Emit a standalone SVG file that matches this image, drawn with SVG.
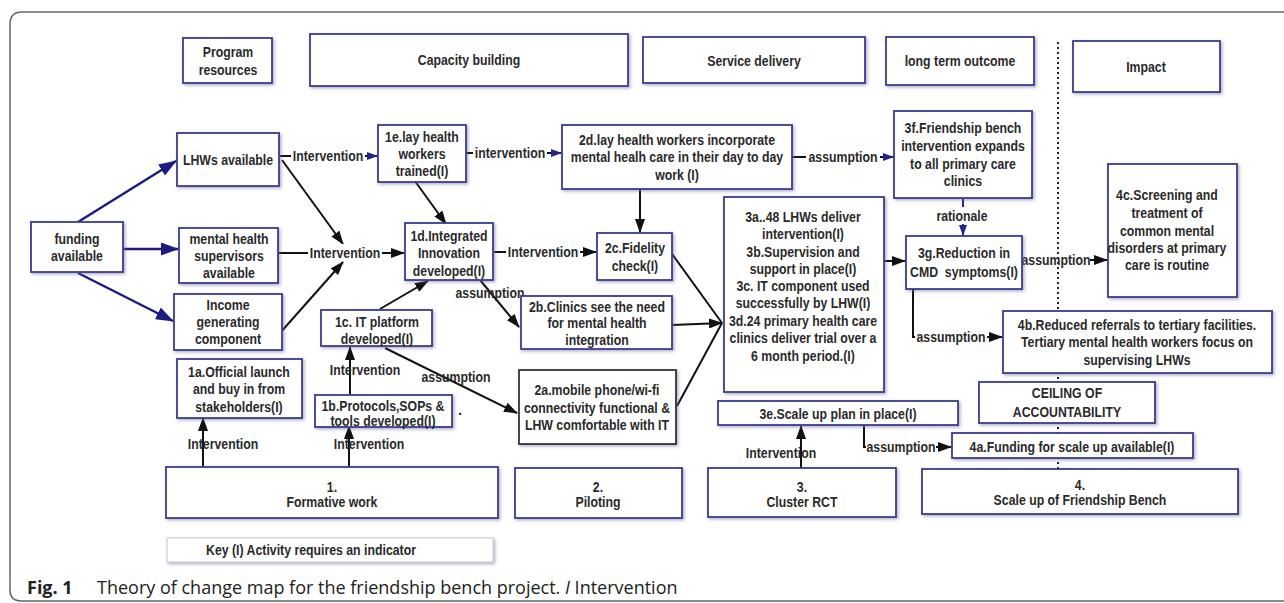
<svg xmlns="http://www.w3.org/2000/svg" width="1284" height="603" viewBox="0 0 1284 603">
<defs>
<filter id="sh" x="-10%" y="-10%" width="120%" height="130%">
<feDropShadow dx="1.5" dy="1.5" stdDeviation="1.5" flood-color="#6a6aa0" flood-opacity="0.55"/>
</filter>
<marker id="ab" markerUnits="userSpaceOnUse" viewBox="0 0 14 10" markerWidth="14" markerHeight="10" refX="13" refY="5" orient="auto"><path d="M0,0 L14,5 L0,10 z" fill="#111"/></marker>
<marker id="bb" markerUnits="userSpaceOnUse" viewBox="0 0 18 13" markerWidth="18" markerHeight="13" refX="17" refY="6.5" orient="auto"><path d="M0,0 L18,6.5 L0,13 z" fill="#1c1c80"/></marker>
<marker id="sb" markerUnits="userSpaceOnUse" viewBox="0 0 11 8" markerWidth="11" markerHeight="8" refX="10" refY="4" orient="auto"><path d="M0,0 L11,4 L0,8 z" fill="#24248a"/></marker>
</defs>
<style>
.bx{fill:#fff;stroke:#3c3c8c;stroke-width:1.8;filter:url(#sh)}
.bk{fill:#fff;stroke:#333;stroke-width:1.8;filter:url(#sh)}
.t{font-family:'Liberation Sans',Arial,sans-serif;font-weight:bold;font-size:15px;fill:#2a2a2a;text-anchor:middle}
.c{fill:none;stroke:#111;stroke-width:2}
.cb{fill:none;stroke:#1c1c80;stroke-width:2.5}
.lb{fill:#fff}
</style>
<rect width="1284" height="603" fill="#fff"/>
<path d="M1284 12 H22 Q10 12 10 24 V590 Q10 601 21 601 H1284" fill="none" stroke="#666" stroke-width="1.5"/>
<line x1="1058" y1="42" x2="1058" y2="470" stroke="#222" stroke-width="2" stroke-dasharray="2 3"/>

<g id="connectors">
<path class="cb" d="M78 222 L176 161" marker-end="url(#bb)"/>
<path class="cb" d="M123 249 L178 249" marker-end="url(#bb)"/>
<path class="cb" d="M78 273 L173 321" marker-end="url(#bb)"/>
<path class="c" d="M280 156 L377 156" marker-end="url(#sb)"/>
<rect class="lb" x="291" y="147" width="74" height="18"/>
<g transform="matrix(0.82 0 0 1 59.04 0)"><text class="t" x="328" y="161">Intervention</text></g>
<path class="c" d="M466 153 L561 153" marker-end="url(#sb)"/>
<rect class="lb" x="473" y="144" width="74" height="18"/>
<g transform="matrix(0.82 0 0 1 91.8 0)"><text class="t" x="510" y="158">intervention</text></g>
<path class="c" d="M792 157 L893 157" marker-end="url(#sb)"/>
<rect class="lb" x="806" y="148" width="74" height="18"/>
<g transform="matrix(0.82 0 0 1 151.74 0)"><text class="t" x="843" y="162">assumption</text></g>
<path class="c" d="M282 160 L343 244" marker-end="url(#ab)"/>
<path class="c" d="M278 253 L404 253" marker-end="url(#ab)"/>
<rect class="lb" x="308" y="244" width="74" height="18"/>
<g transform="matrix(0.82 0 0 1 62.1 0)"><text class="t" x="345" y="258">Intervention</text></g>
<path class="c" d="M280 333 L343 262" marker-end="url(#ab)"/>
<path class="c" d="M412 177 L446 224" marker-end="url(#ab)"/>
<path class="c" d="M494 252 L596 252" marker-end="url(#ab)"/>
<rect class="lb" x="506" y="243" width="74" height="18"/>
<g transform="matrix(0.82 0 0 1 97.74 0)"><text class="t" x="543" y="257">Intervention</text></g>
<path class="c" d="M640 189 L640 232" marker-end="url(#ab)"/>
<path class="c" d="M480 280 L519 327" marker-end="url(#ab)"/>
<g transform="matrix(0.82 0 0 1 88.2 0)"><text class="t" x="490" y="298">assumption</text></g>
<path class="c" d="M380 309 L428 281" marker-end="url(#ab)"/>
<path class="c" d="M385 348 L517 413" marker-end="url(#ab)"/>
<g transform="matrix(0.82 0 0 1 82.08 0)"><text class="t" x="456" y="382">assumption</text></g>
<path class="c" d="M350 395 L350 347" marker-end="url(#ab)"/>
<g transform="matrix(0.82 0 0 1 65.7 0)"><text class="t" x="365" y="375">Intervention</text></g>
<path class="c" d="M349 467 L349 426" marker-end="url(#ab)"/>
<g transform="matrix(0.82 0 0 1 66.42 0)"><text class="t" x="369" y="449">Intervention</text></g>
<path class="c" d="M203 467 L203 418" marker-end="url(#ab)"/>
<g transform="matrix(0.82 0 0 1 40.14 0)"><text class="t" x="223" y="449">Intervention</text></g>
<path class="c" d="M667 247 L722 323"/>
<path class="c" d="M672 325 L722 323" marker-end="url(#ab)"/>
<path class="c" d="M677 406 L722 323"/>
<path class="c" d="M875 261 L905 261" marker-end="url(#ab)"/>
<path d="M963 198 L963 235" fill="none" stroke="#24248a" stroke-width="2" marker-end="url(#sb)"/>
<rect class="lb" x="935" y="207" width="56" height="17"/>
<g transform="matrix(0.82 0 0 1 173.16 0)"><text class="t" x="962" y="221">rationale</text></g>
<path class="c" d="M1090 260 L1107 260" marker-end="url(#ab)"/>
<g transform="matrix(0.82 0 0 1 190.08 0)"><text class="t" x="1056" y="265">assumption</text></g>
<path class="c" d="M913 289 L913 337 L1002 337" marker-end="url(#ab)"/>
<rect class="lb" x="915" y="328" width="72" height="18"/>
<g transform="matrix(0.82 0 0 1 171.18 0)"><text class="t" x="951" y="342">assumption</text></g>
<path class="c" d="M864 425 L864 447 L951 447" marker-end="url(#ab)"/>
<rect class="lb" x="866" y="438" width="70" height="18"/>
<g transform="matrix(0.82 0 0 1 162.18 0)"><text class="t" x="901" y="452">assumption</text></g>
<path class="c" d="M801 468 L801 426" marker-end="url(#ab)"/>
<g transform="matrix(0.82 0 0 1 140.58 0)"><text class="t" x="781" y="458">Intervention</text></g>
</g>

<g id="program-resources"><rect class="bx" x="183" y="38" width="89" height="45"/><g transform="matrix(0.82 0 0 1 41.04 0)"><text class="t" x="228" y="57">Program</text><text class="t" x="228" y="75">resources</text></g></g>
<g id="capacity-building"><rect class="bx" x="310" y="34" width="318" height="52"/><g transform="matrix(0.82 0 0 1 84.42 0)"><text class="t" x="469" y="65">Capacity building</text></g></g>
<g id="service-delivery"><rect class="bx" x="643" y="37" width="222" height="46"/><g transform="matrix(0.82 0 0 1 135.72 0)"><text class="t" x="754" y="66">Service delivery</text></g></g>
<g id="long-term-outcome"><rect class="bx" x="886" y="37" width="148" height="48"/><g transform="matrix(0.82 0 0 1 172.8 0)"><text class="t" x="960" y="66">long term outcome</text></g></g>
<g id="impact"><rect class="bx" x="1073" y="41" width="147" height="51"/><g transform="matrix(0.82 0 0 1 206.28 0)"><text class="t" x="1146" y="72">Impact</text></g></g>

<g id="lhws-available"><rect class="bx" x="177" y="133" width="102" height="53"/><g transform="matrix(0.82 0 0 1 41.04 0)"><text class="t" x="228" y="165">LHWs available</text></g></g>
<g id="n1e"><rect class="bx" x="378" y="125" width="88" height="57"/><g transform="matrix(0.82 0 0 1 75.96 0)"><text class="t" x="422" y="142">1e.lay health</text><text class="t" x="422" y="159">workers</text><text class="t" x="422" y="176">trained(I)</text></g></g>
<g id="n2d"><rect class="bx" x="562" y="125" width="230" height="64"/><g transform="matrix(0.82 0 0 1 121.86 0)"><text class="t" x="677" y="145">2d.lay health workers incorporate</text><text class="t" x="677" y="162">mental healh care in their day to day</text><text class="t" x="677" y="180">work (I)</text></g></g>
<g id="n3f"><rect class="bx" x="894" y="111" width="138" height="87"/><g transform="matrix(0.82 0 0 1 173.34 0)"><text class="t" x="963" y="133">3f.Friendship bench</text><text class="t" x="963" y="151">intervention expands</text><text class="t" x="963" y="169">to all primary care</text><text class="t" x="963" y="186">clinics</text></g></g>
<g id="funding"><rect class="bx" x="31" y="222" width="92" height="50"/><g transform="matrix(0.82 0 0 1 13.86 0)"><text class="t" x="77" y="244">funding</text><text class="t" x="77" y="261">available</text></g></g>
<g id="mh-supervisors"><rect class="bx" x="179" y="228" width="99" height="55"/><g transform="matrix(0.82 0 0 1 41.22 0)"><text class="t" x="229" y="244">mental health</text><text class="t" x="229" y="261">supervisors</text><text class="t" x="229" y="278">available</text></g></g>
<g id="income"><rect class="bx" x="174" y="294" width="108" height="56"/><g transform="matrix(0.82 0 0 1 41.04 0)"><text class="t" x="228" y="310">Income</text><text class="t" x="228" y="327">generating</text><text class="t" x="228" y="344">component</text></g></g>
<g id="n1a"><rect class="bx" x="177" y="359" width="125" height="59"/><g transform="matrix(0.82 0 0 1 43.02 0)"><text class="t" x="239" y="377">1a.Official launch</text><text class="t" x="239" y="394">and buy in from</text><text class="t" x="239" y="412">stakeholders(I)</text></g></g>
<g id="n1d"><rect class="bx" x="405" y="223" width="88" height="57"/><g transform="matrix(0.82 0 0 1 80.82 0)"><text class="t" x="449" y="241">1d.Integrated</text><text class="t" x="449" y="258">Innovation</text><text class="t" x="449" y="276">developed(I)</text></g></g>
<g id="n2c"><rect class="bx" x="597" y="233" width="75" height="47"/><g transform="matrix(0.82 0 0 1 114.3 0)"><text class="t" x="635" y="253">2c.Fidelity</text><text class="t" x="635" y="271">check(I)</text></g></g>
<g id="n2b"><rect class="bx" x="521" y="296" width="151" height="53"/><g transform="matrix(0.82 0 0 1 107.46 0)"><text class="t" x="597" y="312">2b.Clinics see the need</text><text class="t" x="597" y="328">for mental health</text><text class="t" x="597" y="345">integration</text></g></g>
<g id="n1c"><rect class="bx" x="321" y="310" width="111" height="36"/><g transform="matrix(0.82 0 0 1 67.86 0)"><text class="t" x="377" y="327">1c. IT platform</text><text class="t" x="377" y="344">developed(I)</text></g></g>
<g id="n1b"><rect class="bx" x="315" y="395" width="137" height="32"/><g transform="matrix(0.82 0 0 1 68.94 0)"><text class="t" x="383" y="411">1b.Protocols,SOPs &amp;</text><text class="t" x="383" y="426">tools developed(I)</text></g><text class="t" x="460" y="415">.</text></g>
<g id="n2a"><rect class="bk" x="519" y="370" width="157" height="74"/><g transform="matrix(0.82 0 0 1 107.46 0)"><text class="t" x="597" y="395">2a.mobile phone/wi-fi</text><text class="t" x="597" y="413">connectivity functional &amp;</text><text class="t" x="597" y="430">LHW comfortable with IT</text></g></g>
<g id="n3a"><rect class="bx" x="724" y="197" width="160" height="195"/><g transform="matrix(0.82 0 0 1 144.54 0)">
<text class="t" x="803" y="222">3a..48 LHWs deliver</text><text class="t" x="803" y="239">intervention(I)</text><text class="t" x="803" y="257">3b.Supervision and</text><text class="t" x="803" y="274">support in place(I)</text><text class="t" x="803" y="291">3c. IT component used</text><text class="t" x="803" y="308">successfully by LHW(I)</text><text class="t" x="803" y="326">3d.24 primary health care</text><text class="t" x="803" y="343">clinics deliver trial over a</text><text class="t" x="803" y="361">6 month period.(I)</text></g></g>
<g id="n3g"><rect class="bx" x="906" y="236" width="116" height="53"/><g transform="matrix(0.82 0 0 1 173.52 0)"><text class="t" x="964" y="258">3g.Reduction in</text><text class="t" x="964" y="277" xml:space="preserve">CMD  symptoms(I)</text></g></g>
<g id="n4c"><rect class="bx" x="1108" y="164" width="129" height="133"/><g transform="matrix(0.82 0 0 1 210.06 0)"><text class="t" x="1167" y="200">4c.Screening and</text><text class="t" x="1167" y="218">treatment of</text><text class="t" x="1167" y="236">common mental</text><text class="t" x="1167" y="253">disorders at primary</text><text class="t" x="1167" y="270">care is routine</text></g></g>
<g id="n4b"><rect class="bx" x="1003" y="311" width="269" height="62"/><g transform="matrix(0.82 0 0 1 204.66 0)"><text class="t" x="1137" y="330">4b.Reduced referrals to tertiary facilities.</text><text class="t" x="1137" y="347">Tertiary mental health workers focus on</text><text class="t" x="1137" y="365">supervising LHWs</text></g></g>
<g id="ceiling"><rect class="bx" x="979" y="382" width="176" height="41"/><g transform="matrix(0.82 0 0 1 192.06 0)"><text class="t" x="1067" y="398">CEILING OF</text><text class="t" x="1067" y="417">ACCOUNTABILITY</text></g></g>
<g id="n3e"><rect class="bx" x="718" y="401" width="240" height="24"/><g transform="matrix(0.82 0 0 1 150.84 0)"><text class="t" x="838" y="419">3e.Scale up plan in place(I)</text></g></g>
<g id="n4a"><rect class="bx" x="952" y="433" width="241" height="25"/><g transform="matrix(0.82 0 0 1 192.96 0)"><text class="t" x="1072" y="452">4a.Funding for scale up available(I)</text></g></g>
<g id="n4"><rect class="bx" x="922" y="469" width="316" height="45"/><g transform="matrix(0.82 0 0 1 194.4 0)"><text class="t" x="1080" y="490">4.</text><text class="t" x="1080" y="505">Scale up of Friendship Bench</text></g></g>
<g id="n1"><rect class="bx" x="166" y="467" width="332" height="51"/><g transform="matrix(0.82 0 0 1 59.76 0)"><text class="t" x="332" y="492">1.</text><text class="t" x="332" y="507">Formative work</text></g></g>
<g id="n2"><rect class="bx" x="515" y="468" width="167" height="50"/><g transform="matrix(0.82 0 0 1 107.64 0)"><text class="t" x="598" y="492">2.</text><text class="t" x="598" y="507">Piloting</text></g></g>
<g id="n3"><rect class="bx" x="708" y="468" width="188" height="49"/><g transform="matrix(0.82 0 0 1 144.36 0)"><text class="t" x="802" y="492">3.</text><text class="t" x="802" y="507">Cluster RCT</text></g></g>
<g id="key"><rect x="167" y="538" width="326" height="24" fill="#fff" stroke="#d0d0d0" stroke-width="1.2" filter="url(#sh)"/><g transform="matrix(0.82 0 0 1 55.98 0)"><text class="t" x="311" y="555">Key (I) Activity requires an indicator</text></g></g>

<text x="27" y="594" font-family="'Open Sans','Noto Sans',sans-serif" font-size="18" fill="#222"><tspan font-weight="bold">Fig. 1</tspan><tspan x="97">Theory of change map for the friendship bench project. </tspan><tspan font-style="italic">I</tspan><tspan> Intervention</tspan></text>
</svg>
